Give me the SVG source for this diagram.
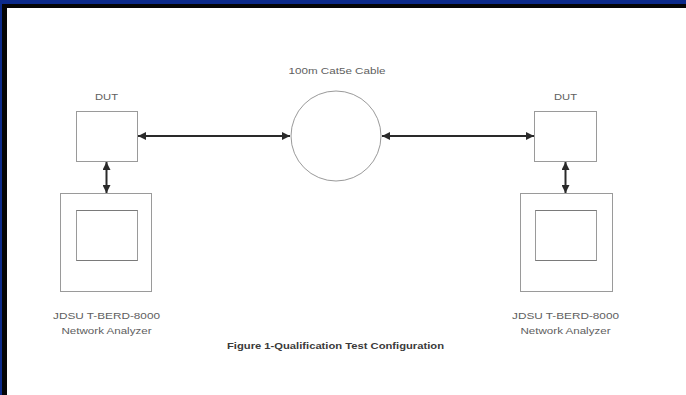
<svg xmlns="http://www.w3.org/2000/svg" width="686" height="395" viewBox="0 0 686 395">
  <style>
    .box { fill: #ffffff; stroke: #9a9a9a; stroke-width: 1; }
    .scr { fill: none; stroke: #7a7a7a; stroke-width: 1; }
    .lbl { font-family: "Liberation Sans", Arial, sans-serif; font-size: 9.5px; fill: #606060; text-anchor: middle; }
    .cap { font-family: "Liberation Sans", Arial, sans-serif; font-size: 9.5px; font-weight: bold; fill: #3a3a3a; text-anchor: middle; }
    .conn { stroke: #2a2a2a; stroke-width: 2; fill: none; }
  </style>
  <defs>
    <marker id="ah" viewBox="0 0 10 10" refX="10" refY="5" markerWidth="4" markerHeight="4" orient="auto-start-reverse" markerUnits="strokeWidth">
      <path d="M0,0 L10,5 L0,10 z" fill="#2a2a2a"/>
    </marker>
  </defs>
  <!-- background and frame -->
  <rect x="0" y="0" width="686" height="395" fill="#ffffff"/>
  <rect x="0" y="0" width="686" height="4" fill="#0c2a8a"/>
  <rect x="0" y="0" width="2" height="395" fill="#0c2a8a"/>
  <rect x="2" y="4" width="684" height="4" fill="#050505"/>
  <rect x="2" y="4" width="5" height="391" fill="#050505"/>

  <g id="dut-left">
    <rect class="box" x="76.5" y="111.5" width="61" height="50"/>
    <text class="lbl" x="106.5" y="100" textLength="23" lengthAdjust="spacingAndGlyphs">DUT</text>
  </g>
  <g id="dut-right">
    <rect class="box" x="534.5" y="111.5" width="62" height="50"/>
    <text class="lbl" x="565.5" y="100" textLength="23" lengthAdjust="spacingAndGlyphs">DUT</text>
  </g>
  <g id="cable">
    <circle cx="336" cy="136" r="45" fill="#ffffff" stroke="#9a9a9a" stroke-width="1"/>
    <text class="lbl" x="337" y="74" textLength="97" lengthAdjust="spacingAndGlyphs">100m Cat5e Cable</text>
  </g>
  <g id="analyzer-left">
    <rect class="box" x="60.5" y="193.5" width="91" height="98"/>
    <rect class="box" x="76.5" y="210.5" width="61" height="50"/>
    <line class="scr" x1="76.5" y1="210.5" x2="137.5" y2="210.5"/>
    <line class="scr" x1="76.5" y1="260.5" x2="137.5" y2="260.5"/>
    <text class="lbl" x="106.5" y="318.5" textLength="107" lengthAdjust="spacingAndGlyphs">JDSU T-BERD-8000</text>
    <text class="lbl" x="106.5" y="333.5" textLength="90" lengthAdjust="spacingAndGlyphs">Network Analyzer</text>
  </g>
  <g id="analyzer-right">
    <rect class="box" x="520.5" y="193.5" width="92" height="98"/>
    <rect class="box" x="535.5" y="210.5" width="61" height="50"/>
    <line class="scr" x1="535.5" y1="210.5" x2="596.5" y2="210.5"/>
    <line class="scr" x1="535.5" y1="260.5" x2="596.5" y2="260.5"/>
    <text class="lbl" x="565.5" y="318.5" textLength="107" lengthAdjust="spacingAndGlyphs">JDSU T-BERD-8000</text>
    <text class="lbl" x="565.5" y="333.5" textLength="90" lengthAdjust="spacingAndGlyphs">Network Analyzer</text>
  </g>
  <g id="caption">
    <text class="cap" x="335.5" y="349" textLength="217" lengthAdjust="spacingAndGlyphs">Figure 1-Qualification Test Configuration</text>
  </g>

  <g id="connectors">
    <line class="conn" x1="138" y1="136" x2="290" y2="136" marker-start="url(#ah)" marker-end="url(#ah)"/>
    <line class="conn" x1="382" y1="136" x2="534" y2="136" marker-start="url(#ah)" marker-end="url(#ah)"/>
    <line class="conn" x1="106.5" y1="162" x2="106.5" y2="193" marker-start="url(#ah)" marker-end="url(#ah)"/>
    <line class="conn" x1="565.5" y1="162" x2="565.5" y2="193" marker-start="url(#ah)" marker-end="url(#ah)"/>
  </g>
</svg>
